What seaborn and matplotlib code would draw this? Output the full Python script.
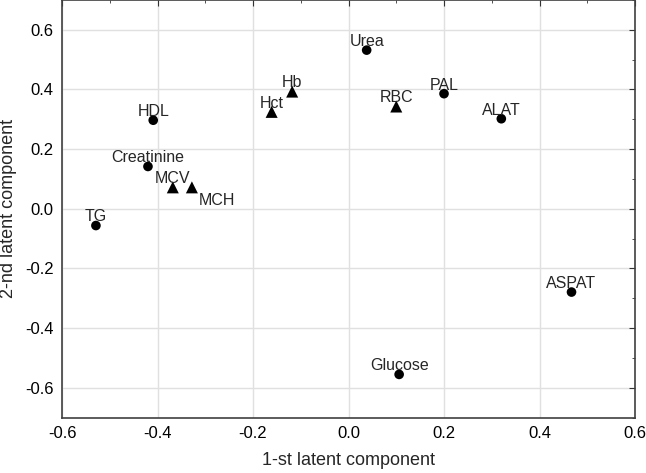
import numpy as np
import pandas as pd
import seaborn as sns
import matplotlib.pyplot as plt

# Loadings
variabili = ["TG", "HDL", "Creatinine", "MCV", "MCH", "Hct", "Hb", "Urea",
             "RBC", "PAL", "ALAT", "ASPAT", "Glucose"]
comp1 = [-0.529, -0.409, -0.420, -0.368, -0.328, -0.161, -0.118, 0.038,
         0.100, 0.200, 0.320, 0.467, 0.106]
comp2 = [-0.056, 0.297, 0.142, 0.072, 0.072, 0.325, 0.393, 0.532,
         0.343, 0.386, 0.302, -0.279, -0.555]
gruppo = ["bio", "bio", "bio", "blood", "blood", "blood", "blood", "bio",
          "blood", "bio", "bio", "bio", "bio"]

df = pd.DataFrame({"c1": comp1, "c2": comp2, "var": variabili, "gruppo": gruppo})

sns.set_style("white")
plt.rcParams["font.family"] = ["Liberation Sans", "DejaVu Sans"]

fig, ax = plt.subplots(figsize=(6.46, 4.73), dpi=100)
fig.subplots_adjust(left=0.096, right=0.983, bottom=0.117, top=1.0)

sns.scatterplot(data=df, x="c1", y="c2", style="gruppo", size="gruppo",
                markers={"bio": "o", "blood": "^"},
                sizes={"bio": 48, "blood": 75}, color="black",
                edgecolor="black", linewidth=0, legend=False, ax=ax, zorder=3)

# Etichette: sopra il punto, MCH in basso a destra
for _, r in df.iterrows():
    if r["var"] == "MCH":
        ax.annotate(r["var"], (r["c1"], r["c2"]), xytext=(5, -4),
                    textcoords="offset points", ha="left", va="top", fontsize=11.5)
    else:
        ax.annotate(r["var"], (r["c1"], r["c2"]), xytext=(0, 3),
                    textcoords="offset points", ha="center", va="baseline",
                    fontsize=11.5)

ax.set_xlim(-0.6, 0.6)
ax.set_ylim(-0.7, 0.7)
ax.set_xticks(np.arange(-0.6, 0.61, 0.2))
ax.set_yticks(np.arange(-0.6, 0.61, 0.2))
ax.set_xticks(np.arange(-0.5, 0.6, 0.2), minor=True)
ax.set_yticks(np.arange(-0.7, 0.71, 0.2), minor=True)
ax.set_xticklabels([f"{v:.1f}" for v in np.arange(-0.6, 0.61, 0.2)])
ax.set_yticklabels([f"{v:.1f}" for v in np.arange(-0.6, 0.61, 0.2)])
ax.grid(True, which="major", color="#e0e0e0", linewidth=1.0)
ax.tick_params(which="both", direction="in", top=True, right=True,
               labelsize=12, colors="#333333", labelcolor="black")
ax.tick_params(which="major", length=4, pad=6)
ax.tick_params(which="minor", length=2.5)
for sp in ax.spines.values():
    sp.set_color("#404040")
    sp.set_linewidth(1.2)

ax.set_xlabel("1-st latent component", fontsize=13, labelpad=8)
ax.set_ylabel("2-nd latent component", fontsize=13, labelpad=6)

plt.savefig("out.png", dpi=100)
